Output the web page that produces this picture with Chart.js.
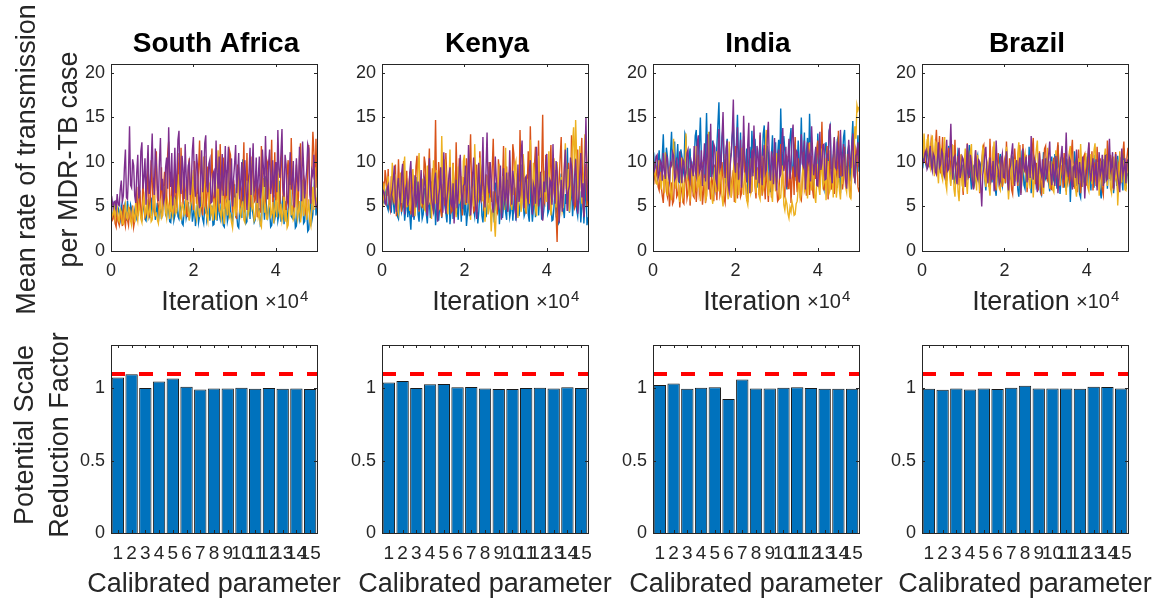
<!DOCTYPE html>
<html>
<head>
<meta charset="utf-8">
<script src="https://cdn.jsdelivr.net/npm/chart.js@4.4.0/dist/chart.umd.min.js"></script>
<style>
  body { margin: 0; background: #fff; }
  #quadro { position: relative; width: 1162px; height: 601px; overflow: hidden; background: #fff; }
  canvas { position: absolute; }
</style>
</head>
<body>
<div id="quadro"></div>
<script>
// Países (um por coluna)
const paises = ['South Africa', 'Kenya', 'India', 'Brazil'];

// Intervalo de iterações entre amostras guardadas das cadeias
const passo = 250;

// Cadeias MCMC - South Africa (azul, laranja, amarelo, roxo)
const saAzul = [4.6,3.9,4.2,5.3,4.9,4.0,3.8,4.8,4.4,3.6,5.1,4.5,3.6,5.0,4.3,3.4,5.6,4.4,3.9,5.2,
  4.7,3.8,3.5,4.6,5.2,3.7,4.1,5.7,6.3,4.2,3.7,5.1,4.8,3.6,3.4,4.9,5.5,3.8,4.2,6.0,
  3.9,4.7,6.1,3.5,4.4,5.4,3.3,4.3,5.0,3.6,4.6,5.9,7.2,4.1,3.8,5.0,4.5,3.3,3.2,4.8,
  5.3,3.4,4.0,6.2,6.6,3.9,3.6,5.1,4.9,3.1,2.9,4.5,5.7,3.7,4.3,5.5,3.5,4.4,6.0,3.3,
  4.1,5.2,2.8,4.0,5.4,3.2,3.9,6.1,4.7,3.6,3.1,4.9,6.4,3.5,4.2,5.7,3.4,4.3,5.1,2.9,
  3.0,4.6,4.8,3.4,6.9,4.2,3.6,5.3,4.4,2.9,2.7,4.7,5.3,3.3,3.9,6.0,4.6,3.8,3.2,5.6,
  7.5,3.9,4.1,2.8,2.6,4.9,5.8,3.7,10.3,4.4,4.5,3.1,3.3,5.9,6.2,3.6,9.1,4.8,4.0,3.2,
  3.5,5.4,7.7,3.8,4.8,2.9,3.1,6.6,5.5,3.5,8.4,4.3,3.8,5.1,4.6,2.7,2.9,4.4,6.3,3.6,
  4.2,5.5,3.4,4.1,7.9,3.3,4.9,6.2,3.0,4.5,5.6,3.2,4.3,7.1,9.2,3.9,3.7,5.0,4.8,2.6,
  2.8,4.9,5.4,3.5,4.0,7.3,6.8,3.1,3.3,5.2,4.7,2.2,2.4,4.6,5.9,3.4,4.1,6.9,8.6,4.0,
  5.2];
const saLaranja = [4.3,3.4,3.6,4.8,3.1,2.7,4.5,3.3,2.9,4.1,3.8,2.8,5.2,3.5,2.8,4.4,3.5,2.9,4.9,3.6,
  3.3,5.1,2.7,3.4,4.6,7.2,3.9,5.0,6.8,4.3,3.4,8.1,5.5,3.8,4.1,6.5,9.6,4.7,3.7,10.2,
  7.8,5.1,4.5,8.8,11.2,6.0,5.0,4.1,6.3,9.4,3.9,7.1,8.9,4.6,5.7,10.9,12.3,5.3,4.4,7.7,
  6.1,4.2,9.8,6.5,4.8,11.0,7.4,5.0,11.6,6.9,5.2,8.4,6.9,4.5,3.8,9.0,10.4,5.6,5.9,7.9,
  4.6,10.1,8.2,5.3,6.4,9.2,12.4,7.0,5.1,4.0,7.3,10.7,4.2,6.0,9.5,4.8,6.7,8.6,11.5,5.7,
  5.4,7.4,3.9,6.6,7.8,4.4,12.0,8.3,6.2,10.5,4.7,5.9,9.1,4.2,5.5,11.3,10.8,6.3,4.3,8.0,
  6.9,4.6,3.6,9.7,8.5,5.4,5.1,7.0,7.6,12.2,4.4,6.1,11.0,4.9,6.0,8.7,4.9,10.6,9.3,5.5,
  5.7,8.0,3.8,6.7,7.2,4.3,11.8,7.6,6.3,5.0,4.5,10.3,9.9,6.4,5.2,8.5,12.5,4.7,6.6,11.1,
  4.8,7.3,8.7,4.6,5.3,9.6,11.4,6.2,6.8,4.4,4.1,8.9,10.2,5.8,5.6,12.7,7.5,5.1,4.4,7.8,
  9.7,4.9,6.1,10.5,12.1,7.2,5.0,8.4,7.9,4.3,4.6,10.0,11.9,6.8,6.4,9.2,13.4,11.0,5.8,12.6,
  7.1];
const saAmarelo = [4.8,3.9,4.1,5.0,3.7,4.6,4.9,3.5,3.3,4.7,4.4,3.1,3.0,4.3,5.2,3.8,3.6,4.9,4.5,3.4,
  2.9,4.6,4.0,3.2,5.6,4.1,3.4,5.3,4.7,3.6,3.2,5.5,6.1,3.9,4.3,5.8,3.8,4.4,5.0,3.3,
  3.5,5.2,6.7,4.0,4.2,3.5,3.1,4.8,5.4,3.7,4.0,6.3,7.3,4.4,3.7,5.6,4.9,3.6,6.2,4.5,
  3.9,6.0,5.8,4.2,4.5,7.1,8.6,3.8,3.6,5.3,5.1,4.0,4.2,6.6,7.0,4.3,3.4,5.0,5.5,7.8,
  9.1,4.7,4.1,3.6,6.4,5.2,3.8,4.9,5.0,8.3,10.6,5.1,4.6,3.9,3.3,6.1,7.7,4.2,4.8,3.4,
  5.9,4.5,3.5,7.2,11.3,5.0,4.4,3.7,6.8,4.1,3.0,5.7,5.3,4.0,8.8,3.8,4.1,3.2,2.6,4.6,
  6.0,3.9,4.7,6.5,9.4,4.4,3.9,5.1,5.6,3.5,3.2,6.9,7.9,4.0,4.5,8.7,10.1,4.8,5.2,3.4,
  3.7,5.4,6.5,3.8,4.3,3.0,2.7,5.9,8.2,4.3,5.0,3.6,3.6,5.2,6.9,3.9,4.2,5.5,3.1,4.7,
  5.7,3.8,9.6,4.6,4.0,5.3,3.4,4.1,6.3,3.3,4.6,2.6,2.9,5.1,7.4,4.0,5.1,3.5,3.8,6.2,
  6.6,3.7,4.4,5.6,3.2,4.2,8.0,3.9,4.9,6.4,3.5,4.5,5.8,3.3,2.8,5.0,7.2,4.6,9.4,5.4,
  6.0];
const saRoxo = [5.3,5.8,4.9,5.5,5.6,4.8,6.4,5.2,5.1,6.9,7.9,5.5,6.2,9.3,11.4,6.0,5.8,8.7,14.0,7.4,
  7.1,10.3,9.6,6.2,5.4,8.8,10.8,5.9,6.7,11.2,12.2,7.0,8.3,10.4,5.2,9.1,11.9,6.4,7.5,9.8,
  13.2,8.0,6.3,11.5,9.9,7.2,5.6,10.0,12.7,6.8,8.1,5.5,6.0,9.4,10.5,7.0,13.9,8.9,7.2,11.0,
  5.1,8.3,11.6,6.5,8.6,12.5,13.5,7.6,6.4,10.7,9.2,5.8,12.0,8.5,5.7,9.6,10.1,6.3,7.7,11.3,
  12.8,7.4,6.1,10.9,9.5,5.9,4.8,8.2,11.3,6.6,8.0,12.1,13.0,7.3,6.6,9.8,10.3,5.4,5.5,8.7,
  9.0,6.0,12.4,8.8,7.0,10.6,5.3,7.9,10.9,6.2,8.4,11.8,6.2,9.1,11.7,5.7,7.4,10.4,5.0,8.1,
  9.8,11.9,6.5,8.6,11.0,5.8,7.9,10.0,5.6,9.0,10.2,6.9,4.6,7.5,8.8,11.6,6.3,9.4,12.1,6.7,
  7.3,10.5,5.4,8.3,10.6,5.9,6.8,11.4,9.3,7.2,12.9,8.4,5.8,9.9,11.4,6.4,7.6,10.2,6.0,8.9,
  10.0,6.6,13.6,9.2,8.2,11.0,13.7,7.0,6.1,10.8,9.7,5.7,5.2,8.6,11.1,6.9,7.8,10.1,4.9,7.4,
  10.4,8.0,6.7,11.7,8.9,5.6,12.3,9.5,5.9,7.7,9.1,12.0,11.5,6.3,5.3,9.0,8.5,10.8,6.4,5.2,
  4.8];

// Cadeias MCMC - Kenya
const keAzul = [6.2,5.6,5.4,6.3,6.8,5.0,4.6,6.1,5.9,4.3,7.3,5.5,4.2,6.6,5.7,3.9,3.6,5.2,6.5,4.4,
  4.9,6.0,3.4,4.7,7.1,3.8,5.2,4.0,2.4,5.3,6.0,3.5,4.4,6.4,8.3,4.1,3.3,5.9,5.6,3.6,
  4.1,7.0,6.9,4.2,3.1,5.5,5.3,3.7,7.8,5.0,4.5,6.7,2.9,4.6,6.4,3.4,5.0,7.2,3.7,4.8,
  8.6,5.1,4.3,3.2,5.8,6.9,3.0,4.4,6.6,3.6,4.8,7.5,9.1,4.9,3.5,6.3,5.5,3.3,7.0,5.2,
  4.0,6.5,2.8,4.2,6.2,3.9,5.1,7.3,8.9,4.7,3.9,5.6,5.7,3.1,4.4,6.8,7.4,4.0,3.2,5.4,
  6.1,3.8,4.7,6.4,9.5,5.0,3.6,4.5,5.4,3.2,7.7,5.7,4.2,6.2,3.0,4.9,6.8,3.7,5.0,7.9,
  4.4,3.5,8.0,5.3,3.8,4.6,6.3,3.4,5.2,7.1,3.4,4.8,7.6,3.9,4.9,6.0,9.7,5.5,3.9,4.3,
  5.9,7.4,4.1,3.3,8.2,5.1,3.3,4.7,6.5,3.8,5.3,8.4,4.0,5.9,7.1,3.6,3.6,4.5,5.8,6.9,
  9.0,4.2,4.6,6.6,6.0,3.4,3.5,5.0,7.5,4.4,5.1,3.0,3.2,6.1,8.7,4.9,4.8,3.7,6.4,5.3,
  11.6,6.2,4.3,5.7,7.8,3.9,5.6,9.3,10.4,4.6,3.9,6.0,6.7,3.2,5.0,7.6,3.1,5.4,8.1,2.9,
  3.8];
const keLaranja = [6.9,7.8,5.8,9.1,8.1,6.2,9.2,5.3,4.7,8.4,7.4,5.6,6.0,9.7,3.9,6.5,10.3,7.1,5.5,4.4,
  7.9,10.1,4.6,6.8,9.0,5.0,6.3,8.9,4.1,7.0,8.6,4.9,5.2,9.5,10.7,6.1,4.4,8.0,7.2,4.8,
  5.9,10.6,9.8,6.0,4.8,8.5,11.5,5.2,6.6,9.3,4.2,7.7,14.7,6.4,5.4,10.0,8.3,4.5,3.8,7.3,
  7.0,5.1,11.0,8.2,5.1,6.9,8.9,4.3,4.5,9.9,6.7,5.3,12.2,7.5,5.6,10.4,9.4,6.0,4.0,8.3,
  7.6,5.2,10.4,7.9,5.3,9.6,13.1,6.8,6.2,4.4,4.6,8.1,9.7,5.5,5.8,11.2,8.0,6.3,11.3,4.7,
  4.9,8.6,7.3,5.4,10.0,6.6,5.5,9.2,12.6,7.0,6.4,4.6,4.3,10.3,8.8,5.9,5.0,7.8,11.8,6.2,
  6.8,9.5,4.4,7.2,9.3,5.0,5.7,12.0,10.9,6.5,4.8,8.7,7.5,5.6,13.6,7.7,5.9,10.2,8.4,4.9,
  4.2,7.4,11.2,6.0,14.0,8.3,6.1,5.1,9.6,11.7,5.2,7.1,12.4,6.4,7.0,9.0,15.3,5.8,5.4,10.8,
  8.7,6.2,4.7,9.4,11.9,5.5,6.5,8.0,9.1,4.3,1.0,6.7,7.8,10.6,12.8,5.9,5.6,8.5,10.5,7.3,
  4.5,9.9,8.2,5.7,13.0,7.6,6.9,4.8,5.1,9.0,11.4,6.1,7.3,10.4,12.7,5.3,4.0,8.8,9.8,5.0,
  6.3];
const keAmarelo = [6.4,5.6,7.6,6.0,5.1,7.2,8.4,5.5,4.6,6.9,9.9,6.3,5.7,8.6,7.0,4.9,4.3,7.5,8.8,5.4,
  6.1,9.0,10.6,5.8,4.9,7.1,7.7,4.5,5.4,8.3,9.2,6.0,3.9,5.7,6.8,9.4,11.0,6.2,5.0,7.9,
  8.1,4.7,4.5,6.6,9.6,5.2,6.2,8.8,3.6,5.9,10.2,7.4,5.3,9.1,7.9,4.6,4.8,6.7,12.9,8.0,
  6.0,10.3,8.7,5.1,4.1,7.6,11.4,6.3,5.6,9.8,7.3,4.9,3.8,6.2,9.5,5.3,6.6,8.4,4.7,10.1,
  10.8,7.0,5.2,9.3,8.0,4.6,3.5,6.8,7.1,5.0,12.0,8.2,4.4,5.7,6.5,10.5,9.0,5.6,5.8,7.3,
  3.3,5.4,8.5,4.1,4.9,6.0,2.2,4.3,6.7,3.5,1.6,4.8,5.5,7.9,9.8,5.2,4.2,8.4,7.4,4.6,
  11.6,6.1,5.0,8.7,8.9,5.9,4.6,7.0,6.3,9.6,10.1,5.4,3.7,6.5,7.8,4.4,5.4,10.9,9.3,6.6,
  4.3,8.1,7.0,5.3,12.5,7.6,5.9,9.9,8.6,4.7,3.9,7.2,10.7,6.0,6.1,8.8,4.8,5.7,9.0,6.4,
  5.5,8.0,11.2,6.9,4.0,5.5,7.6,10.4,6.4,4.9,10.0,7.7,3.4,6.2,8.3,4.5,5.1,9.4,12.1,7.0,
  6.8,9.2,4.4,6.3,9.7,12.0,13.9,8.1,14.7,10.6,7.2,5.6,11.8,8.5,5.3,7.4,8.9,13.1,12.4,9.6,
  7.5];
const keRoxo = [5.9,6.8,6.6,5.4,5.2,7.0,7.4,5.7,4.8,6.3,6.9,8.1,9.6,5.6,4.4,7.3,8.2,6.1,5.5,8.7,
  9.8,6.4,4.1,7.0,7.6,5.1,5.9,8.9,10.1,6.6,3.8,5.5,8.5,4.9,6.2,7.8,4.6,6.9,9.1,5.4,
  5.3,8.3,7.8,4.7,3.9,6.5,10.4,7.4,6.0,5.1,4.5,7.9,8.8,5.8,3.3,6.2,7.1,9.4,5.6,4.3,
  11.1,7.2,4.2,5.9,6.8,8.5,9.4,5.3,5.0,7.6,3.1,6.0,8.0,4.8,6.4,9.2,10.8,6.7,4.7,7.3,
  7.5,9.6,5.4,6.9,11.9,7.8,4.0,5.8,8.6,10.5,6.1,4.9,3.6,7.4,9.9,6.2,5.7,8.4,12.8,7.0,
  4.9,9.2,13.3,7.5,6.5,10.0,8.1,5.2,4.3,6.7,10.6,8.0,5.8,4.6,7.2,9.6,3.5,6.1,9.3,5.4,
  6.0,8.8,4.4,6.5,11.3,7.7,5.2,9.0,7.9,4.6,3.9,6.4,9.7,5.5,6.3,10.9,12.4,7.1,4.8,8.2,
  8.4,6.0,5.5,9.1,10.2,6.8,4.1,7.5,7.0,5.3,11.7,8.6,5.0,6.9,8.9,4.7,3.4,7.8,6.6,9.8,
  10.9,6.3,4.6,8.0,7.7,5.2,12.0,7.9,5.3,10.1,9.0,6.5,3.2,5.6,8.0,4.4,6.2,9.3,11.4,7.1,
  4.5,6.8,7.3,10.5,9.5,6.1,5.1,8.4,10.3,6.7,4.2,5.9,8.7,11.0,6.0,7.6,3.8,9.9,15.0,8.2,
  5.6];

// Cadeias MCMC - India
const inAzul = [9.2,8.5,10.4,9.6,8.6,10.1,11.3,8.9,9.0,10.7,13.1,9.3,8.2,11.6,10.6,8.8,7.9,11.0,13.4,9.7,
  9.5,12.3,8.4,10.2,12.0,8.9,7.6,11.4,10.7,8.5,9.1,13.2,12.8,9.8,8.0,10.5,11.5,7.8,7.2,10.0,
  10.2,12.9,13.6,9.4,8.7,11.9,15.0,10.3,9.6,8.1,7.4,11.2,15.5,9.9,10.9,13.4,8.3,10.6,12.4,7.7,
  7.0,10.1,11.8,14.2,16.7,10.8,9.3,12.7,13.9,8.7,8.1,11.3,12.6,9.5,6.8,10.4,11.1,13.0,14.4,9.0,
  8.6,12.1,15.3,10.6,10.0,13.3,7.3,9.8,12.9,8.4,9.4,11.5,6.4,10.2,11.7,8.3,13.5,10.9,8.8,12.6,
  10.5,8.6,7.1,11.0,12.3,8.2,9.7,13.1,14.1,9.6,8.0,11.8,11.0,7.5,6.6,10.7,13.0,9.1,9.9,12.2,
  7.7,10.9,12.5,9.3,16.0,11.1,8.9,12.9,11.4,8.5,6.9,10.0,10.3,12.6,13.8,9.2,8.4,11.5,12.1,7.9,
  9.6,12.4,7.5,10.6,15.0,9.7,10.8,13.3,8.2,11.2,12.7,9.0,15.4,11.6,9.0,7.4,6.7,10.3,11.6,8.8,
  13.2,10.4,8.5,12.0,10.1,7.6,7.0,11.4,12.2,9.8,9.3,13.5,14.0,8.9,7.8,10.7,11.3,9.1,8.7,12.5,
  12.9,8.3,6.5,10.1,10.6,12.8,13.6,9.5,8.1,11.1,11.9,7.8,9.4,12.3,14.6,10.0,7.6,9.2,10.4,13.0,
  8.9];
const inLaranja = [8.8,9.5,7.9,8.4,9.6,7.2,6.8,8.9,7.3,6.2,5.4,8.0,8.5,6.7,6.1,7.8,5.0,6.4,7.7,5.3,
  5.6,8.2,9.0,6.1,6.4,7.5,4.9,6.8,7.1,5.5,5.3,8.7,8.2,5.9,6.6,9.3,5.1,7.0,9.4,6.2,
  6.0,8.5,5.5,7.3,10.8,6.4,7.0,9.1,5.2,6.6,8.6,5.4,6.3,9.6,11.5,7.1,5.8,8.3,7.6,5.6,
  9.7,7.4,5.7,8.8,12.6,6.3,6.9,10.0,8.3,5.9,5.4,7.7,10.4,6.5,7.2,9.4,6.0,8.1,9.1,5.5,
  11.8,7.6,5.9,9.0,8.0,6.1,6.5,10.3,12.2,7.9,7.4,5.7,5.6,8.4,9.8,6.6,6.7,11.2,10.9,7.3,
  5.9,9.4,8.7,6.3,13.0,8.1,6.2,10.5,7.8,5.8,10.1,7.4,5.5,8.8,9.2,6.0,6.8,9.9,11.4,7.7,
  7.3,5.6,5.8,8.6,12.0,9.3,8.5,6.4,6.1,10.8,10.6,7.0,7.0,9.7,5.4,8.2,9.5,6.3,12.8,8.4,
  6.6,10.4,8.9,6.0,5.7,7.9,11.1,8.6,7.5,6.2,9.9,12.1,6.3,8.0,10.7,6.8,5.9,9.6,8.1,11.5,
  12.4,8.8,7.2,10.2,14.5,9.0,6.8,7.7,9.4,11.8,5.8,8.3,11.3,6.9,7.9,10.5,6.4,8.7,10.2,7.1,
  13.5,9.6,8.4,11.0,6.9,8.2,11.7,7.4,7.6,10.9,9.3,6.5,6.2,9.8,12.5,8.5,8.0,11.4,10.8,7.2,
  6.6];
const inAmarelo = [8.1,8.9,9.0,7.6,7.5,9.4,10.2,7.9,6.9,8.7,8.4,6.5,11.1,8.0,6.2,9.0,9.3,6.8,5.7,7.4,
  12.6,8.3,7.0,9.7,8.8,6.4,5.5,7.7,10.5,6.0,6.6,9.2,13.2,8.1,7.8,6.3,5.9,8.6,9.7,6.9,
  6.4,8.8,11.8,7.0,7.3,9.5,5.6,6.9,10.0,7.4,8.2,5.7,6.1,9.8,13.4,8.0,7.6,6.2,5.3,7.9,
  9.4,6.6,11.2,8.4,6.7,9.9,8.5,6.1,5.0,7.3,10.9,8.2,7.1,5.8,12.3,8.7,6.0,7.5,8.9,10.6,
  5.4,7.2,9.9,6.3,7.7,9.0,11.6,7.5,6.3,8.8,8.0,5.7,5.2,7.6,10.4,6.5,7.0,9.4,12.9,7.8,
  6.5,9.1,8.6,6.2,5.8,8.0,10.7,6.8,7.4,11.5,13.6,8.5,6.2,7.1,9.1,6.4,5.5,8.9,8.3,6.7,
  11.0,7.9,7.2,5.9,6.0,8.1,9.6,5.2,4.6,5.8,5.3,4.2,3.7,4.9,4.4,5.5,4.9,4.0,4.1,5.3,
  5.6,7.0,8.7,5.9,6.4,8.5,10.3,6.7,7.1,9.3,5.9,7.6,12.2,8.0,6.8,9.8,8.9,6.2,5.4,7.8,
  9.8,7.1,6.3,8.6,11.5,7.3,7.7,10.4,5.7,8.2,10.1,6.5,6.9,9.2,8.4,6.0,12.7,8.8,6.0,7.4,
  9.2,6.8,5.8,8.3,7.5,10.0,10.9,7.2,6.6,9.5,8.1,6.1,5.9,8.7,11.3,9.7,14.0,12.6,16.4,15.8,
  16.2];
const inRoxo = [10.1,8.9,9.3,10.6,10.8,8.2,8.6,10.2,9.9,7.9,11.0,9.1,8.1,10.7,10.4,8.5,7.8,9.9,9.6,11.1,
  10.7,8.0,8.3,10.5,9.1,7.7,11.2,9.4,7.6,10.3,10.0,8.2,8.8,11.0,11.4,8.6,7.9,10.1,9.5,8.4,
  11.8,9.0,8.4,12.2,13.0,8.8,9.2,11.3,7.3,10.0,12.1,7.8,10.5,13.1,6.9,9.6,14.3,8.3,9.0,12.0,
  11.6,8.1,7.5,10.9,13.7,9.2,9.8,12.8,15.6,10.4,8.2,11.5,12.4,7.4,6.7,9.7,10.9,13.4,17.0,10.2,
  8.8,11.6,13.9,8.0,10.2,12.5,7.1,9.3,15.2,10.8,9.4,7.7,12.0,14.4,6.5,9.0,11.3,8.4,14.1,10.6,
  8.0,11.8,10.6,7.6,13.3,9.5,7.4,10.9,11.9,8.7,9.1,12.9,14.5,9.8,7.9,11.2,10.3,7.5,12.7,9.3,
  6.8,10.0,11.4,8.3,8.6,12.1,13.8,9.0,9.7,11.7,7.2,10.4,12.6,8.1,10.0,13.0,14.2,9.6,8.3,11.3,
  11.1,8.6,7.7,10.3,13.1,9.9,9.5,12.4,6.9,8.8,12.2,10.1,10.8,7.8,14.0,11.0,8.5,9.7,11.7,7.4,
  7.3,10.2,13.4,9.1,9.9,11.9,12.0,8.0,8.1,10.8,10.5,13.3,14.3,8.7,7.6,11.1,12.8,9.4,9.2,12.3,
  11.0,8.2,13.6,10.4,8.4,12.0,10.7,7.9,7.0,9.6,12.5,10.5,9.3,11.8,13.2,8.6,8.0,10.7,10.9,12.2,
  9.4];

// Cadeias MCMC - Brazil
const brAzul = [10.2,9.7,11.0,10.1,9.6,11.2,10.8,9.4,11.5,10.3,9.1,10.9,10.4,8.9,8.8,10.6,11.2,9.3,9.9,8.6,
  8.4,10.0,10.6,8.2,9.0,10.4,11.8,8.7,8.1,9.9,10.3,7.9,7.6,9.8,9.4,11.3,11.0,8.3,8.5,9.7,
  7.2,9.0,10.1,7.8,8.7,10.5,11.9,8.4,6.9,9.3,9.5,7.5,8.0,10.2,10.7,8.1,7.4,9.6,9.2,11.1,
  11.3,8.0,6.8,9.4,8.9,7.3,10.0,8.6,7.7,10.4,9.6,7.0,6.2,8.7,8.4,10.1,10.9,7.9,7.3,9.1,
  9.1,7.6,11.4,9.5,6.6,8.5,8.2,10.7,10.5,7.7,7.8,9.2,9.7,6.9,6.1,8.3,8.6,10.8,10.2,7.4,
  7.0,9.6,9.3,8.0,11.7,9.0,6.5,8.2,8.8,10.3,10.0,7.2,7.5,9.7,9.0,6.6,6.3,8.9,11.1,8.4,
  8.1,10.2,9.8,7.6,6.7,9.1,10.6,8.3,7.9,10.9,8.5,7.0,11.9,9.4,6.4,8.0,9.2,10.5,7.1,8.8,
  10.4,7.5,8.0,9.9,5.5,8.4,9.5,7.2,11.2,9.8,7.3,8.9,8.7,6.4,6.0,9.0,10.1,7.8,7.7,10.6,
  9.4,7.3,11.6,8.6,6.8,9.9,8.3,7.1,10.8,8.8,7.2,10.0,9.0,6.7,5.9,8.5,10.3,7.6,8.6,10.9,
  7.0,9.2,11.0,7.9,8.9,10.4,6.5,8.1,9.6,7.3,10.7,9.0,7.4,10.5,8.2,6.8,11.5,9.3,6.9,8.4,
  8.8];
const brLaranja = [10.5,11.4,12.4,10.2,9.8,11.7,13.1,10.0,10.9,12.6,12.0,9.9,9.4,11.8,13.6,10.5,11.1,12.9,8.7,10.6,
  12.8,9.2,9.5,11.0,7.9,10.1,11.6,8.8,10.2,12.0,8.3,9.6,12.5,8.6,9.0,10.7,7.4,9.3,10.8,8.0,
  6.3,9.0,9.9,7.5,12.1,9.4,8.2,10.9,10.6,7.8,7.0,9.5,11.3,8.4,8.8,10.3,6.5,8.9,9.7,11.6,
  11.9,8.7,7.6,9.8,9.1,7.2,12.6,9.6,8.0,11.1,10.4,7.7,6.8,9.2,11.0,8.1,8.5,10.6,7.2,9.4,
  10.1,7.6,12.3,9.1,7.7,10.4,9.3,6.9,6.4,8.8,11.5,9.7,8.6,7.3,10.0,11.9,7.1,8.5,12.0,9.2,
  8.9,10.8,6.6,8.3,10.7,7.4,9.4,11.3,12.7,8.7,7.5,9.9,8.1,6.8,11.2,9.0,6.2,8.6,9.8,11.5,
  11.8,8.2,7.9,10.1,9.0,7.0,6.9,9.7,10.5,7.8,8.4,10.9,12.2,8.9,7.3,9.5,9.6,7.1,11.0,8.3,
  6.7,9.4,10.3,7.7,8.2,11.0,12.5,8.5,7.0,9.8,9.2,6.6,11.4,9.1,6.5,8.0,8.8,10.6,10.9,7.5,
  7.4,9.6,12.1,8.4,9.5,11.2,6.8,8.9,10.0,7.3,11.7,9.3,7.7,10.4,8.9,6.9,6.3,9.1,10.6,8.2,
  12.4,9.9,8.1,10.8,9.7,7.2,7.0,9.4,11.1,8.6,6.6,9.9,10.2,7.6,8.5,11.0,12.3,9.2,7.8,10.5,
  11.6];
const brAmarelo = [11.6,10.4,13.2,11.0,10.1,12.5,12.7,9.8,9.3,11.9,13.0,10.6,8.4,12.3,12.1,9.0,7.6,10.8,11.4,8.5,
  8.0,11.1,12.8,7.6,6.9,9.7,10.5,8.2,7.3,10.2,11.9,7.0,6.1,8.8,9.6,6.7,5.6,8.3,10.9,7.4,
  7.0,9.9,11.5,7.9,6.4,8.6,9.0,11.2,12.0,8.0,7.7,10.1,8.6,6.8,10.8,9.3,6.6,8.4,9.4,11.6,
  11.2,8.1,7.2,9.5,10.0,7.3,6.2,8.7,8.9,10.6,12.3,8.2,7.5,9.9,9.7,7.1,6.8,8.9,10.6,7.7,
  8.1,10.3,11.7,8.0,5.8,7.6,9.2,10.8,7.4,9.1,10.3,7.9,8.7,11.0,12.2,8.5,6.5,7.9,9.0,10.4,
  11.0,8.3,7.1,9.6,8.5,7.0,10.7,9.2,6.0,8.1,9.9,11.4,12.4,8.6,7.8,9.5,8.3,7.2,6.4,9.0,
  10.2,8.2,11.6,9.3,7.0,10.1,8.8,6.9,6.6,8.4,11.3,8.8,9.1,7.4,7.5,10.5,10.6,8.3,8.0,9.7,
  6.3,8.5,9.5,11.1,11.8,8.4,7.9,9.8,8.6,7.0,6.1,8.3,10.4,7.6,12.0,9.6,7.2,8.7,9.3,11.0,
  8.0,7.1,6.7,9.0,10.9,7.5,9.0,11.3,12.1,8.8,7.6,10.0,6.2,8.4,10.1,7.7,8.4,10.6,11.5,8.1,
  7.3,9.4,9.8,7.0,6.5,8.9,10.6,7.8,8.2,10.3,5.1,7.5,11.2,8.6,7.7,10.2,9.4,6.9,6.8,8.8,
  10.0];
const brRoxo = [10.8,9.9,10.1,11.0,11.3,9.2,9.5,10.7,11.8,9.6,9.0,10.9,10.6,8.9,8.6,10.3,12.2,9.4,9.7,11.3,
  11.0,8.7,8.3,10.4,12.5,9.0,9.2,11.1,14.3,9.8,8.0,10.5,10.7,8.4,7.5,9.9,11.6,8.2,8.9,10.6,
  10.3,8.8,7.2,9.6,12.0,8.3,8.6,10.8,9.8,7.7,6.9,9.2,11.3,8.5,8.1,10.2,10.0,7.4,5.0,8.6,
  9.4,10.8,11.7,8.8,7.6,9.5,10.5,7.9,8.4,10.1,6.7,8.7,12.4,9.7,9.1,7.5,7.8,10.2,10.9,8.3,
  8.2,9.9,11.2,7.8,6.8,9.1,9.6,11.0,12.1,8.7,7.3,9.4,10.2,7.7,8.8,10.5,6.3,8.6,11.5,9.3,
  9.0,10.6,7.7,9.4,10.8,8.2,12.9,9.7,8.0,10.4,9.9,7.5,6.6,8.9,11.0,9.2,8.5,10.3,7.1,9.0,
  10.4,8.1,9.2,10.9,12.3,8.6,7.4,9.8,8.9,7.3,10.7,9.1,6.5,8.4,9.5,10.6,11.8,8.3,7.9,9.6,
  13.3,9.4,8.3,10.5,10.1,7.8,6.9,9.3,9.7,8.2,11.4,9.6,7.5,10.0,8.7,7.2,10.6,8.9,5.9,8.1,
  9.3,10.7,12.2,8.8,7.8,9.5,10.4,8.0,8.6,10.3,6.8,9.0,11.1,8.4,9.0,10.8,7.3,9.4,10.8,7.9,
  8.1,10.2,12.6,9.0,9.4,11.1,7.0,8.7,10.9,9.3,8.4,7.6,6.6,9.5,11.5,8.5,9.2,10.4,7.6,9.8,
  10.3];

// Fator de redução de escala (PSRF) por parâmetro calibrado
const parametros = ['1','2','3','4','5','6','7','8','9','10','11','12','13','14','15'];
const psrfSA = [1.076,1.097,1.002,1.048,1.069,1.011,0.993,1.0,1.0,1.005,0.998,1.002,0.998,1.0,0.995];
const psrfKE = [1.041,1.051,1.002,1.028,1.030,1.007,1.009,1.0,0.995,0.995,1.002,1.005,1.0,1.007,1.002];
const psrfIN = [1.023,1.034,0.998,1.005,1.007,0.926,1.062,1.0,1.0,1.005,1.007,1.002,0.998,0.998,0.998];
const psrfBR = [0.998,0.991,1.0,0.993,1.0,0.995,1.005,1.018,1.0,1.0,1.0,0.998,1.011,1.009,1.0];
const limiarPSRF = 1.1;

// Marcas dos eixos
const ticksTraco = [0, 5, 10, 15, 20];
const ticksIter = [0, 20000, 40000];
const ticksPSRF = [0, 0.5, 1];

const cadeias = [
  [saAzul, saLaranja, saAmarelo, saRoxo],
  [keAzul, keLaranja, keAmarelo, keRoxo],
  [inAzul, inLaranja, inAmarelo, inRoxo],
  [brAzul, brLaranja, brAmarelo, brRoxo]
];
const psrf = [psrfSA, psrfKE, psrfIN, psrfBR];

const coresCadeias = ['#0072BD', '#D95319', '#EDB120', '#7E2F8E'];
const corTexto = '#262626';
const familia = '"Liberation Sans", Arial, Helvetica, sans-serif';

Chart.defaults.font.family = familia;
Chart.defaults.color = corTexto;

// Layout das colunas
const esquerdas = [0, 330, 601, 870];
const larguraEixoY = [111, 52, 52, 52];
const larguraArea = 206;
const folgaDireita = 40;

function criarCanvas(x, y, w, h) {
  const cv = document.createElement('canvas');
  cv.width = w;
  cv.height = h;
  cv.style.left = x + 'px';
  cv.style.top = y + 'px';
  document.getElementById('quadro').appendChild(cv);
  return cv;
}

// Caixa em volta dos eixos e marcas para dentro (estilo MATLAB)
const moldura = {
  id: 'moldura',
  afterDraw(chart) {
    const {ctx, chartArea: a, scales} = chart;
    ctx.save();
    ctx.strokeStyle = corTexto;
    ctx.lineWidth = 1;
    ctx.beginPath();
    scales.x.ticks.forEach((t, i) => {
      const px = Math.round(scales.x.getPixelForTick(i)) + 0.5;
      ctx.moveTo(px, a.bottom); ctx.lineTo(px, a.bottom - 3);
      ctx.moveTo(px, a.top); ctx.lineTo(px, a.top + 3);
    });
    scales.y.ticks.forEach((t, i) => {
      const py = Math.round(scales.y.getPixelForTick(i)) + 0.5;
      ctx.moveTo(a.left, py); ctx.lineTo(a.left + 3, py);
      ctx.moveTo(a.right, py); ctx.lineTo(a.right - 3, py);
    });
    ctx.stroke();
    ctx.strokeRect(Math.round(a.left) + 0.5, Math.round(a.top) + 0.5,
      Math.round(a.right - a.left), Math.round(a.bottom - a.top));
    ctx.restore();
  }
};

// Linha tracejada vermelha do limiar de convergência
const linhaLimiar = {
  id: 'linhaLimiar',
  afterDatasetsDraw(chart) {
    const {ctx, chartArea: a, scales} = chart;
    const py = scales.y.getPixelForValue(limiarPSRF);
    ctx.save();
    ctx.strokeStyle = '#FF0000';
    ctx.lineWidth = 4;
    ctx.setLineDash([14, 14]);
    ctx.beginPath();
    ctx.moveTo(a.left, py);
    ctx.lineTo(a.right, py);
    ctx.stroke();
    ctx.restore();
  }
};

// Títulos, rótulos dos eixos e o x10^4
const textos = {
  id: 'textos',
  afterDraw(chart, args, opts) {
    const {ctx, chartArea: a} = chart;
    const cx = (a.left + a.right) / 2;
    ctx.save();
    ctx.textAlign = 'center';
    ctx.textBaseline = 'alphabetic';
    if (opts.titulo) {
      ctx.fillStyle = '#000';
      ctx.font = 'bold 28px ' + familia;
      ctx.fillText(opts.titulo, cx + 2, a.top - 12);
    }
    ctx.fillStyle = corTexto;
    ctx.font = '27px ' + familia;
    ctx.fillText(opts.eixoX, cx + (opts.desvioX || 0), a.bottom + 59);
    if (opts.expoente) {
      // "×10" com o 4 sobrescrito, à direita do rótulo
      ctx.textAlign = 'left';
      ctx.font = '20px ' + familia;
      const inicio = a.right - 52;
      const w10 = ctx.measureText('\u00d710').width;
      ctx.fillText('\u00d710', inicio, a.bottom + 57);
      ctx.font = '15px ' + familia;
      ctx.fillText('4', inicio + w10 + 1, a.bottom + 50);
      ctx.textAlign = 'center';
    }
    if (opts.eixoY) {
      ctx.font = '27px ' + familia;
      ctx.translate(0, (a.top + a.bottom) / 2 + (opts.desvioY || 0));
      ctx.rotate(-Math.PI / 2);
      opts.eixoY.forEach((linha, i) => ctx.fillText(linha, 0, opts.baseY[i]));
    }
    ctx.restore();
  }
};

function opcoesBase(c, topo, escalaY) {
  return {
    responsive: false,
    animation: false,
    events: [],
    layout: {padding: {left: 0, right: folgaDireita, top: topo, bottom: 0}},
    plugins: {legend: {display: false}, tooltip: {enabled: false}},
    scales: {
      y: Object.assign({
        grid: {display: false, drawTicks: false},
        border: {display: false},
        afterFit: s => { s.width = larguraEixoY[c]; },
        ticks: {padding: 6, color: corTexto, font: {size: 18}, callback: v => String(v)}
      }, escalaY)
    }
  };
}

// Gráficos de traço (linha de cima)
function graficoTraco(c) {
  const largura = larguraEixoY[c] + larguraArea + folgaDireita;
  const canvas = criarCanvas(esquerdas[c], 0, largura, 320);
  const opcoes = opcoesBase(c, 64, {
    min: 0, max: 21,
    afterBuildTicks: s => { s.ticks = ticksTraco.map(v => ({value: v})); }
  });
  opcoes.scales.x = {
    type: 'linear', min: 0, max: 50000,
    grid: {display: false, drawTicks: false},
    border: {display: false},
    afterBuildTicks: s => { s.ticks = ticksIter.map(v => ({value: v})); },
    afterFit: s => { s.height = 69; },
    ticks: {padding: 9, color: corTexto, font: {size: 18}, maxRotation: 0, callback: v => String(v / 10000)}
  };
  opcoes.plugins.textos = {
    titulo: paises[c], eixoX: 'Iteration', desvioX: -4, expoente: true,
    eixoY: c === 0 ? ['Mean rate of transmission', 'per MDR-TB case'] : null,
    baseY: [35, 77], desvioY: 2
  };
  new Chart(canvas, {
    type: 'line',
    data: {
      datasets: cadeias[c].map((valores, k) => ({
        data: valores.map((v, i) => ({x: i * passo, y: v})),
        borderColor: coresCadeias[k],
        borderWidth: 1.4,
        pointRadius: 0,
        tension: 0,
        order: 4 - k
      }))
    },
    options: opcoes,
    plugins: [moldura, textos]
  });
}

// Gráficos de barras do PSRF (linha de baixo)
function graficoPSRF(c) {
  const largura = larguraEixoY[c] + larguraArea + folgaDireita;
  const canvas = criarCanvas(esquerdas[c], 320, largura, 281);
  const opcoes = opcoesBase(c, 25, {
    min: 0, max: 1.3,
    afterBuildTicks: s => { s.ticks = ticksPSRF.map(v => ({value: v})); }
  });
  opcoes.scales.x = {
    grid: {display: false, drawTicks: false},
    border: {display: false},
    afterFit: s => { s.height = 68; },
    ticks: {padding: 9, color: corTexto, font: {size: 19}, autoSkip: false, maxRotation: 0, minRotation: 0}
  };
  opcoes.plugins.textos = {
    eixoX: 'Calibrated parameter',
    eixoY: c === 0 ? ['Potential Scale', 'Reduction Factor'] : null,
    baseY: [33, 68], desvioY: -4
  };
  new Chart(canvas, {
    type: 'bar',
    data: {
      labels: parametros,
      datasets: [{
        data: psrf[c],
        backgroundColor: '#0072BD',
        borderColor: '#1a1a1a',
        borderWidth: 1,
        barPercentage: 0.9,
        categoryPercentage: 1
      }]
    },
    options: opcoes,
    plugins: [linhaLimiar, moldura, textos]
  });
}

for (let c = 0; c < paises.length; c++) {
  graficoTraco(c);
  graficoPSRF(c);
}
</script>
</body>
</html>
